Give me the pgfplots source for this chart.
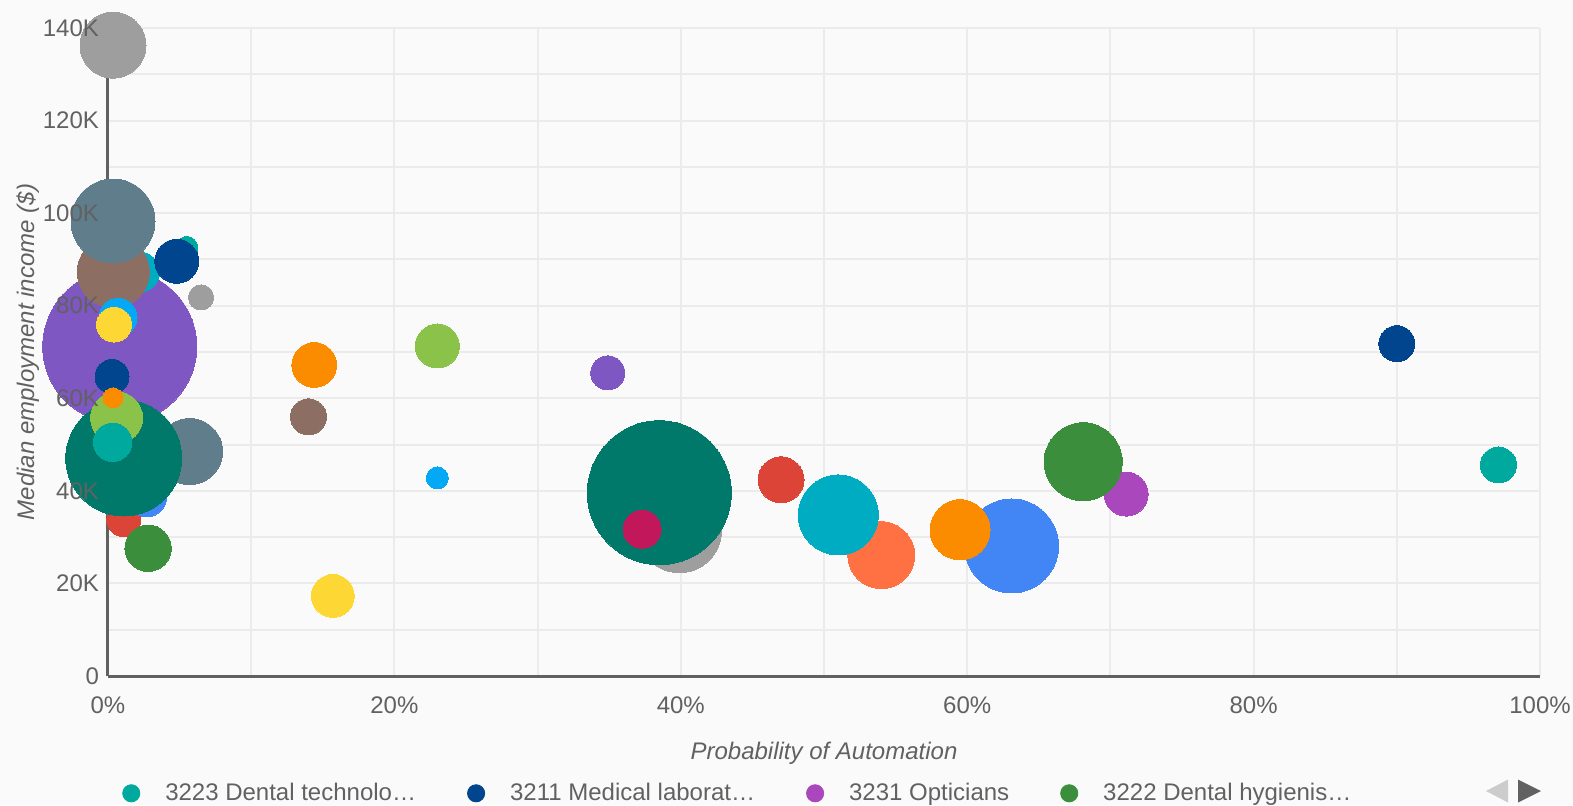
\documentclass[border=0pt]{standalone}
\usepackage{pgfplots}
\pgfplotsset{compat=1.18}
\usepackage{fontspec}
\setmainfont{Liberation Sans}

\definecolor{bgc}{HTML}{FAFAFA}
\definecolor{gridc}{HTML}{EBEBEB}
\definecolor{axisc}{HTML}{616161}
\definecolor{textc}{HTML}{616161}
\definecolor{cgray}{HTML}{9E9E9E}
\definecolor{cbluegray}{HTML}{607D8B}
\definecolor{cbrown}{HTML}{8D6E63}
\definecolor{ccyan}{HTML}{00ACC1}
\definecolor{cteal}{HTML}{00A99D}
\definecolor{cdarkblue}{HTML}{01458E}
\definecolor{clightblue}{HTML}{03A9F4}
\definecolor{cyellow}{HTML}{FDD835}
\definecolor{cpurple}{HTML}{7E57C2}
\definecolor{corange}{HTML}{FB8C00}
\definecolor{clightgreen}{HTML}{8BC34A}
\definecolor{cdarkteal}{HTML}{00796B}
\definecolor{cblue}{HTML}{4285F4}
\definecolor{cred}{HTML}{DB4437}
\definecolor{cgreen}{HTML}{3B8E3C}
\definecolor{cmagenta}{HTML}{C2185B}
\definecolor{corangered}{HTML}{FF7043}
\definecolor{cviolet}{HTML}{AB47BC}

% same as the standard layer set, but tick labels go above the plots
\pgfplotsset{
  layers/labelsover/.define layer set={
    axis background,axis grid,axis ticks,axis lines,pre main,main,
    axis tick labels,axis descriptions,axis foreground
  }{
    grid style={/pgfplots/on layer=axis grid},
    tick style={/pgfplots/on layer=axis ticks},
    axis line style={/pgfplots/on layer=axis lines},
    label style={/pgfplots/on layer=axis descriptions},
    legend style={/pgfplots/on layer=axis descriptions},
    title style={/pgfplots/on layer=axis descriptions},
    colorbar style={/pgfplots/on layer=axis descriptions},
    ticklabel style={/pgfplots/on layer=axis tick labels},
    axis background@ style={/pgfplots/on layer=axis background},
    3d box foreground style={/pgfplots/on layer=axis foreground},
  },
}

% x = probability of automation (%), y = median income (K$), r = bubble radius (pt)
\pgfplotstableread{
x     y      r      c
0.35  136.3  16.5   gray
0.82  71.2   38.5   purple
2.2   87.3   10.0   cyan
0.37  87.3   18.0   brown
0.35  98.3   21.0   bluegray
5.5   92.6   5.5    teal
4.8   89.6   11.0   darkblue
6.5   81.8   6.3    gray
0.7   77.5   9.5    lightblue
0.42  75.9   8.7    yellow
0.28  64.7   8.5    darkblue
5.7   48.5   16.5   bluegray
1.1   33.8   8.5    red
2.7   38.7   10.0   blue
1.1   47.1   29.0   darkteal
0.6   55.8   13.0   lightgreen
0.35  60.1   5.0    orange
0.33  50.5   9.6    teal
2.8   27.6   11.6   green
14.4  67.2   11.2   orange
14.0  56.0   9.0    brown
23.0  71.3   11.0   lightgreen
23.0  42.8   5.5    lightblue
15.7  17.3   10.7   yellow
34.9  65.5   8.5    purple
39.9  31.4   21.0   gray
38.5  39.6   36.0   darkteal
37.3  31.7   9.5    magenta
47.0  42.4   11.5   red
54.0  26.1   16.7   orangered
51.0  34.8   20.0   cyan
63.1  28.1   23.5   blue
59.5  31.6   15.0   orange
71.1  39.3   11.0   violet
68.1  46.3   19.5   green
90.0  71.8   9.0    darkblue
97.1  45.6   9.0    teal
}\bubbles

\begin{document}
\begin{tikzpicture}
\begin{axis}[
  set layers=labelsover,
  at={(0,0)}, anchor=south west,
  scale only axis, width=716pt, height=324pt,
  xmin=0, xmax=100, ymin=0, ymax=140,
  clip=false,
  axis lines*=left,
  axis line style={draw=axisc, line width=1.5pt, -},
  xtick={0,20,...,100},
  xticklabels={0\%,20\%,40\%,60\%,80\%,100\%},
  minor xtick={10,30,...,90},
  ytick={0,20,...,140},
  yticklabels={0,20K,40K,60K,80K,100K,120K,140K},
  minor ytick={10,30,...,130},
  grid=both,
  major grid style={draw=gridc, line width=1pt},
  minor grid style={draw=gridc, line width=1pt},
  major tick length=0pt, minor tick length=0pt,
  tick label style={font=\fontsize{12}{14}\selectfont, text=textc},
  xticklabel style={yshift=-7pt},
  yticklabel style={xshift=-1pt},
  xlabel={Probability of Automation},
  ylabel={Median employment income (\$)},
  xlabel style={at={(axis description cs:0.5,-0.12)}, anchor=center,
    font=\fontsize{12}{14}\selectfont\itshape, text=textc},
  ylabel style={at={(axis description cs:-0.056,0.5)}, anchor=center,
    font=\fontsize{12}{14}\selectfont\itshape, text=textc},
  legend columns=4,
  legend style={at={(axis description cs:0.0055,-0.181)}, anchor=west,
    draw=none, fill=none, font=\fontsize{12}{14}\selectfont, text=textc,
    /tikz/every odd column/.append style={column sep=10.5pt},
    /tikz/every even column/.append style={column sep=23.5pt}},
  legend image code/.code={\fill[#1] (0pt,0pt) circle (4.3pt);},
]
\begin{pgfonlayer}{axis background}
  \fill[bgc] (axis description cs:-0.07542,-0.19907) rectangle (axis description cs:1.02305,1.04321);
\end{pgfonlayer}
\addplot[scatter, only marks, mark=*,
  scatter src=explicit symbolic,
  mark options={line width=0pt},
  scatter/classes={
    gray={mark=*, cgray},
    bluegray={mark=*, cbluegray},
    brown={mark=*, cbrown},
    cyan={mark=*, ccyan},
    teal={mark=*, cteal},
    darkblue={mark=*, cdarkblue},
    lightblue={mark=*, clightblue},
    yellow={mark=*, cyellow},
    purple={mark=*, cpurple},
    orange={mark=*, corange},
    lightgreen={mark=*, clightgreen},
    darkteal={mark=*, cdarkteal},
    blue={mark=*, cblue},
    red={mark=*, cred},
    green={mark=*, cgreen},
    magenta={mark=*, cmagenta},
    orangered={mark=*, corangered},
    violet={mark=*, cviolet}},
  visualization depends on={\thisrow{r} \as \bubr},
  scatter/@pre marker code/.append style={/tikz/mark size=\bubr pt},
  forget plot]
  table[x=x, y=y, meta=c] {\bubbles};
\addlegendimage{cteal}
\addlegendentry{3223 Dental technolo…}
\addlegendimage{cdarkblue}
\addlegendentry{3211 Medical laborat…}
\addlegendimage{cviolet}
\addlegendentry{3231 Opticians}
\addlegendimage{cgreen}
\addlegendentry{3222 Dental hygienis…}
\end{axis}
\fill[gray!40] (700pt,-51.75pt) -- (700pt,-63.25pt) -- (689pt,-57.5pt) -- cycle;
\fill[axisc] (705pt,-51.75pt) -- (705pt,-63.25pt) -- (716.5pt,-57.5pt) -- cycle;
\pgfresetboundingbox
\path[use as bounding box] (-54pt,-64.5pt) rectangle (732.5pt,338pt);
\end{tikzpicture}
\end{document}
